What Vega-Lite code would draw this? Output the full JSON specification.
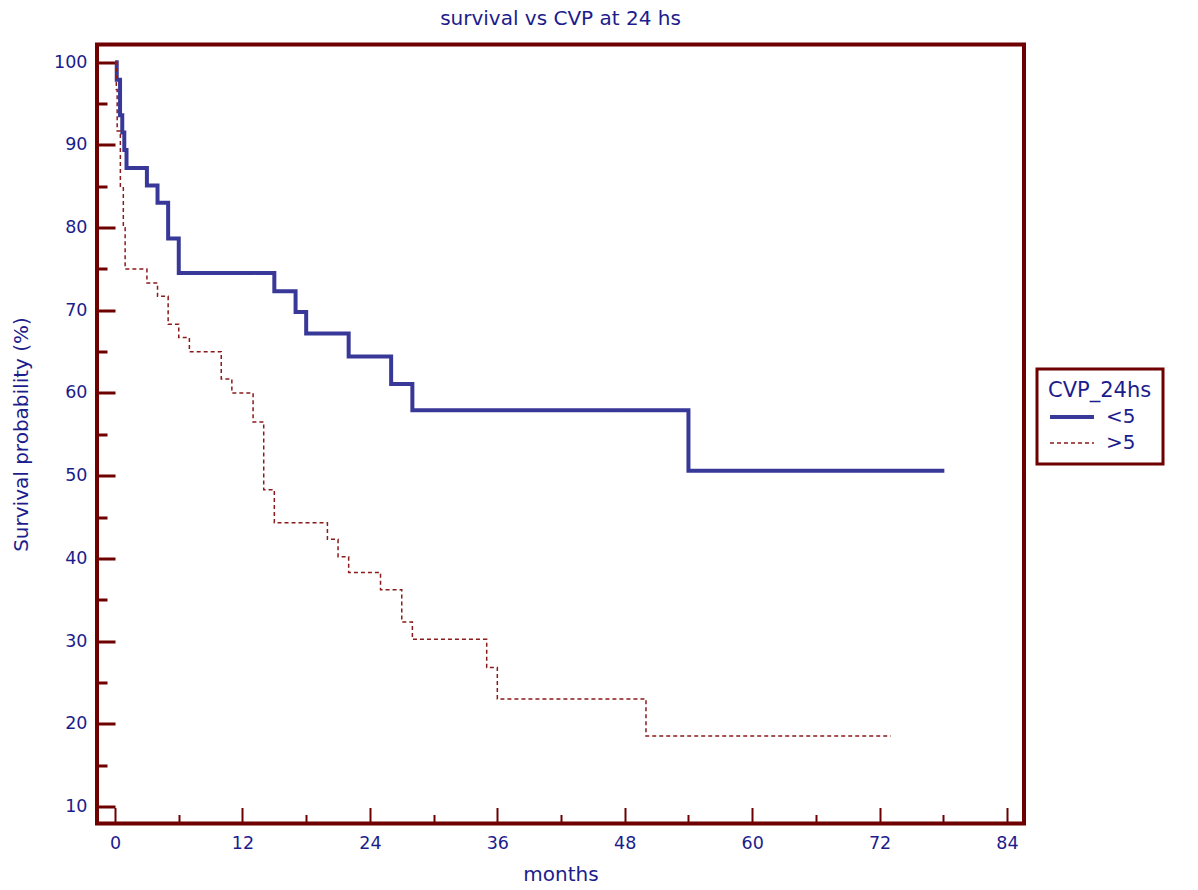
{
  "$schema": "https://vega.github.io/schema/vega-lite/v6.json",
  "width": 927,
  "height": 779,
  "autosize": "none",
  "padding": {"left": 97, "top": 44.5, "right": 174, "bottom": 66.5},
  "background": "white",
  "title": {
    "text": "survival vs CVP at 24 hs",
    "font": "DejaVu Sans",
    "fontSize": 20,
    "fontWeight": "normal",
    "color": "#1c1c8c",
    "anchor": "middle",
    "frame": "group",
    "offset": 16
  },
  "config": {
    "view": {"stroke": "#6e0000", "strokeWidth": 4},
    "legend": {"strokeWidth": 3},
    "axis": {
      "domain": false,
      "grid": false,
      "labelFont": "DejaVu Sans",
      "labelFontSize": 17.5,
      "labelColor": "#1c1c8c",
      "titleFont": "DejaVu Sans",
      "titleFontSize": 20,
      "titleFontWeight": "normal",
      "titleColor": "#1c1c8c",
      "tickColor": "#6e0000"
    }
  },
  "data": {
    "values": [
      {"group": "<5", "month": 0, "surv": 100},
      {"group": "<5", "month": 0.16, "surv": 97.9},
      {"group": "<5", "month": 0.47, "surv": 93.6},
      {"group": "<5", "month": 0.68, "surv": 91.5},
      {"group": "<5", "month": 0.87, "surv": 89.4},
      {"group": "<5", "month": 1.08, "surv": 87.2},
      {"group": "<5", "month": 3, "surv": 85.1},
      {"group": "<5", "month": 4, "surv": 83.0},
      {"group": "<5", "month": 5, "surv": 78.7},
      {"group": "<5", "month": 6, "surv": 74.5},
      {"group": "<5", "month": 15, "surv": 72.3},
      {"group": "<5", "month": 17, "surv": 69.8},
      {"group": "<5", "month": 18, "surv": 67.2},
      {"group": "<5", "month": 22, "surv": 64.4},
      {"group": "<5", "month": 26, "surv": 61.1},
      {"group": "<5", "month": 28, "surv": 57.9},
      {"group": "<5", "month": 54, "surv": 50.6},
      {"group": "<5", "month": 78.1, "surv": 50.6},
      {"group": ">5", "month": 0, "surv": 100},
      {"group": ">5", "month": 0.12, "surv": 96.7},
      {"group": ">5", "month": 0.2, "surv": 91.7},
      {"group": ">5", "month": 0.5, "surv": 85.0},
      {"group": ">5", "month": 0.78, "surv": 80.0},
      {"group": ">5", "month": 0.95, "surv": 75.0},
      {"group": ">5", "month": 3, "surv": 73.3},
      {"group": ">5", "month": 4, "surv": 71.7},
      {"group": ">5", "month": 5, "surv": 68.3},
      {"group": ">5", "month": 6, "surv": 66.7},
      {"group": ">5", "month": 7, "surv": 65.0},
      {"group": ">5", "month": 10, "surv": 61.7},
      {"group": ">5", "month": 11, "surv": 60.0},
      {"group": ">5", "month": 13, "surv": 56.5},
      {"group": ">5", "month": 14, "surv": 48.3},
      {"group": ">5", "month": 15, "surv": 44.3},
      {"group": ">5", "month": 20, "surv": 42.3},
      {"group": ">5", "month": 21, "surv": 40.2},
      {"group": ">5", "month": 22, "surv": 38.3},
      {"group": ">5", "month": 25, "surv": 36.2},
      {"group": ">5", "month": 27, "surv": 32.3},
      {"group": ">5", "month": 28, "surv": 30.2},
      {"group": ">5", "month": 35, "surv": 26.8},
      {"group": ">5", "month": 36, "surv": 23.0},
      {"group": ">5", "month": 50, "surv": 18.5},
      {"group": ">5", "month": 73.05, "surv": 18.5}
    ]
  },
  "mark": {"type": "line", "interpolate": "step-after", "clip": true},
  "encoding": {
    "x": {
      "field": "month",
      "type": "quantitative",
      "scale": {"domain": [-1.7, 85.6], "nice": false, "zero": false},
      "axis": {
        "title": "months",
        "values": [0, 6, 12, 18, 24, 30, 36, 42, 48, 54, 60, 66, 72, 78, 84],
        "labelExpr": "datum.value % 12 === 0 ? datum.label : ''",
        "tickSize": {"condition": {"test": "datum.value % 12 === 0", "value": -16}, "value": -9},
        "tickWidth": 2,
        "labelPadding": 27,
        "titlePadding": 12
      }
    },
    "y": {
      "field": "surv",
      "type": "quantitative",
      "scale": {"domain": [7.93, 102.15], "nice": false, "zero": false},
      "axis": {
        "title": "Survival probability (%)",
        "values": [10, 15, 20, 25, 30, 35, 40, 45, 50, 55, 60, 65, 70, 75, 80, 85, 90, 95, 100],
        "labelExpr": "datum.value % 10 === 0 ? datum.label : ''",
        "tickSize": {"condition": {"test": "datum.value % 10 === 0", "value": -18}, "value": -10},
        "tickWidth": 3,
        "labelPadding": 28,
        "titlePadding": 22
      }
    },
    "color": {
      "field": "group",
      "type": "nominal",
      "scale": {"domain": ["<5", ">5"], "range": ["#383899", "#8b1a1a"]},
      "legend": {
        "title": "CVP_24hs",
        "orient": "none",
        "legendX": 940,
        "legendY": 324.5,
        "padding": 11,
        "strokeColor": "#6e0000",
        "titleFont": "DejaVu Sans",
        "titleFontSize": 21,
        "titleFontWeight": "normal",
        "titleColor": "#1c1c8c",
        "titlePadding": 3,
        "labelFont": "DejaVu Sans",
        "labelFontSize": 20,
        "labelColor": "#1c1c8c",
        "symbolType": "M-1,0H3",
        "symbolSize": 484,
        "rowPadding": 4,
        "labelOffset": 32
      }
    },
    "strokeDash": {
      "field": "group",
      "type": "nominal",
      "scale": {"domain": ["<5", ">5"], "range": [[1, 0], [4, 3]]},
      "legend": {"title": "CVP_24hs", "orient": "none", "legendX": 940, "legendY": 324.5}
    },
    "strokeWidth": {
      "field": "group",
      "type": "nominal",
      "scale": {"domain": ["<5", ">5"], "range": [4, 1.5]},
      "legend": {"title": "CVP_24hs", "orient": "none", "legendX": 940, "legendY": 324.5}
    }
  }
}
